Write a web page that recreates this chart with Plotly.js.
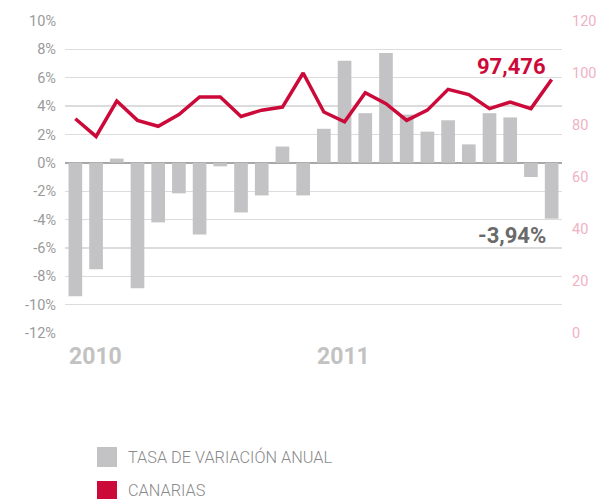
<!DOCTYPE html>
<html>
<head>
<meta charset="utf-8">
<script src="https://cdn.plot.ly/plotly-3.0.1.min.js"></script>
<style>html,body{margin:0;padding:0;background:#fff;}#chart{width:605px;height:499px;}</style>
</head>
<body>
<div id="chart"></div>
<script>
// Months Jan 2010 – Dec 2011
var months = ["2010-01","2010-02","2010-03","2010-04","2010-05","2010-06","2010-07","2010-08","2010-09","2010-10","2010-11","2010-12",
              "2011-01","2011-02","2011-03","2011-04","2011-05","2011-06","2011-07","2011-08","2011-09","2011-10","2011-11","2011-12"];
// Tasa de variación anual (%)
var tasaVariacion = [-9.4, -7.5, 0.3, -8.85, -4.2, -2.15, -5.05, -0.25, -3.5, -2.3, 1.15, -2.3,
                     2.4, 7.2, 3.5, 7.75, 3.4, 2.2, 3.0, 1.3, 3.5, 3.2, -1.0, -3.94];
// Canarias (índice)
var canarias = [82.4, 75.6, 89.2, 81.8, 79.5, 84.0, 90.8, 90.8, 83.3, 85.7, 86.9, 100.0,
                85.0, 81.2, 92.4, 88.2, 81.8, 85.7, 93.7, 91.7, 86.3, 88.8, 86.3, 97.476];
var leftTickVals = [-12,-10,-8,-6,-4,-2,0,2,4,6,8,10];
var leftTickText = ["-12%","-10%","-8%","-6%","-4%","-2%","0%","2%","4%","6%","8%","10%"];
var rightTickVals = [0,20,40,60,80,100,120];
var yearLabels = ["2010","2011"];
var legendLabels = ["TASA DE VARIACIÓN ANUAL","CANARIAS"];
var lastValueLabel = "97,476";
var lastRateLabel = "-3,94%";

var idx = months.map(function(_, i){ return i; });
var GRAY = "#c3c3c5", RED = "#cc0a3a";
var FONT = "Roboto, 'DejaVu Sans', sans-serif";

var traces = [
  {type:"bar", x: idx, y: tasaVariacion, marker:{color:GRAY}, width:0.66, yaxis:"y", hoverinfo:"skip"},
  {type:"scatter", mode:"lines", x: idx, y: canarias, yaxis:"y2", line:{color:RED, width:3.5}, hoverinfo:"skip"}
];

function px2paperX(p){ return (p-65)/497; }
function px2paperY(p){ return (333-p)/312; }

var layout = {
  width:605, height:499,
  margin:{l:65, r:43, t:21, b:166},
  paper_bgcolor:"#fff", plot_bgcolor:"#fff",
  showlegend:false,
  font:{family:FONT, color:"#9b9b9b", size:14},
  xaxis:{range:[-0.5,23.5], showticklabels:false, showgrid:false, zeroline:false, ticks:"", fixedrange:true},
  yaxis:{range:[-12,10], tickvals:leftTickVals, ticktext:leftTickText, showgrid:true, gridcolor:"#dcdcdc", gridwidth:1.3,
         zeroline:true, zerolinecolor:"#a8a8a8", zerolinewidth:2.2, ticks:"", ticklabelstandoff:8,
         tickfont:{family:FONT, color:"#9a9a9a", size:14.5}},
  yaxis2:{range:[0,120], overlaying:"y", side:"right", tickvals:rightTickVals, showgrid:false, zeroline:false, ticks:"",
          ticklabelstandoff:9, tickfont:{family:FONT, color:"#f0b2c3", size:14.5}},
  annotations:[
    {xref:"x", yref:"paper", x:-0.42, y:px2paperY(356), xanchor:"left", yanchor:"middle", text:yearLabels[0], showarrow:false,
     font:{family:FONT, size:23, color:"#c2c2c2", weight:700}},
    {xref:"x", yref:"paper", x:11.57, y:px2paperY(356), xanchor:"left", yanchor:"middle", text:yearLabels[1], showarrow:false,
     font:{family:FONT, size:23, color:"#c2c2c2", weight:700}},
    {xref:"x", yref:"y2", x:22.82, y:102.5, xanchor:"right", yanchor:"middle", text:lastValueLabel, showarrow:false,
     font:{family:FONT, size:22, color:RED, weight:700}},
    {xref:"x", yref:"y", x:22.82, y:-5.1, xanchor:"right", yanchor:"middle", text:lastRateLabel, showarrow:false,
     font:{family:FONT, size:22, color:"#6a6a6a", weight:700}},
    {xref:"paper", yref:"paper", x:px2paperX(126), y:px2paperY(457), xanchor:"left", yanchor:"middle", text:legendLabels[0], showarrow:false,
     font:{family:FONT, size:16.3, color:"#8a8a8a", weight:300}},
    {xref:"paper", yref:"paper", x:px2paperX(126), y:px2paperY(490), xanchor:"left", yanchor:"middle", text:legendLabels[1], showarrow:false,
     font:{family:FONT, size:16.3, color:"#8a8a8a", weight:300}}
  ],
  shapes:[
    {type:"rect", xref:"paper", yref:"paper", x0:px2paperX(97), x1:px2paperX(117), y0:px2paperY(467), y1:px2paperY(447), fillcolor:GRAY, line:{width:0}},
    {type:"rect", xref:"paper", yref:"paper", x0:px2paperX(97), x1:px2paperX(117), y0:px2paperY(501), y1:px2paperY(481), fillcolor:RED, line:{width:0}}
  ]
};

Plotly.newPlot("chart", traces, layout, {displayModeBar:false, staticPlot:true});
</script>
</body>
</html>
